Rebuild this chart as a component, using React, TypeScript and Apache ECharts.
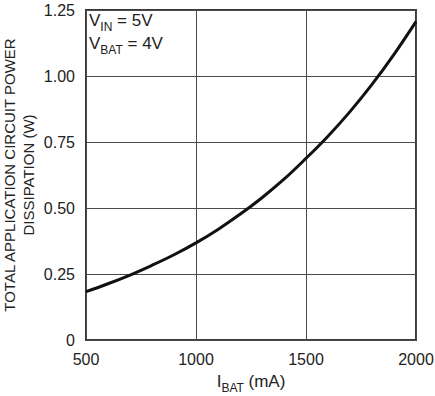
import React, { useEffect, useRef } from "react";
import * as echarts from "echarts";

const currentMA = [500, 600, 700, 800, 900, 1000, 1100, 1200, 1300, 1400, 1500, 1600, 1700, 1800, 1900, 2000];
const powerW = [0.183, 0.213, 0.246, 0.283, 0.323, 0.368, 0.419, 0.476, 0.539, 0.609, 0.688, 0.772, 0.865, 0.968, 1.082, 1.206];
const xTicks = { min: 500, max: 2000, interval: 500 };
const yTicks = { min: 0, max: 1.25, interval: 0.25 };

const FONT = "'Liberation Sans', Arial, sans-serif";

export default function App() {
  const ref = useRef<HTMLDivElement>(null);
  useEffect(() => {
    if (!ref.current) return;
    const chart = echarts.init(ref.current, null, { renderer: "svg" });
    const data = currentMA.map((x, i) => [x, powerW[i]]);
    chart.setOption({
      animation: false,
      backgroundColor: "#ffffff",
      grid: {
        left: 86,
        right: 19,
        top: 10,
        bottom: 56,
        show: true,
        borderColor: "#3a3a3a",
        borderWidth: 2,
        outerBoundsMode: "none",
        containLabel: false,
      },
      xAxis: {
        type: "value",
        min: xTicks.min,
        max: xTicks.max,
        interval: xTicks.interval,
        axisLine: { show: false },
        axisTick: { show: false },
        splitLine: { show: true, lineStyle: { color: "#4a4a4a", width: 1 } },
        axisLabel: {
          color: "#222",
          fontFamily: FONT,
          fontSize: 16,
          margin: 11,
          formatter: (v: number) => String(v),
        },
        name: "{m|I}{s|BAT}{m| (mA)}",
        nameLocation: "middle",
        nameGap: 33,
        nameTextStyle: {
          rich: {
            m: { fontFamily: FONT, fontSize: 17, color: "#222", lineHeight: 20, verticalAlign: "top" },
            s: { fontFamily: FONT, fontSize: 12, color: "#222", lineHeight: 12, padding: [9, 0, 0, 0], verticalAlign: "top" },
          },
        },
      },
      yAxis: {
        type: "value",
        min: yTicks.min,
        max: yTicks.max,
        interval: yTicks.interval,
        axisLine: { show: false },
        axisTick: { show: false },
        splitLine: { show: true, lineStyle: { color: "#4a4a4a", width: 1 } },
        axisLabel: {
          color: "#222",
          fontFamily: FONT,
          fontSize: 16,
          margin: 11,
          formatter: (v: number) => (v === 0 ? "0" : v.toFixed(2)),
        },
      },
      graphic: [
        {
          type: "text",
          x: 19,
          y: 175,
          rotation: Math.PI / 2,
          style: {
            text: "TOTAL APPLICATION CIRCUIT POWER\nDISSIPATION (W)",
            fontFamily: FONT,
            fontSize: 15,
            lineHeight: 18.5,
            fill: "#222",
            align: "center",
            verticalAlign: "middle",
          },
        },
        {
          type: "text",
          x: 89,
          y: 12,
          style: {
            text: "{m|V}{s|IN}{m| = 5V}\n{m|V}{s|BAT}{m| = 4V}",
            fill: "#222",
            rich: {
              m: { fontFamily: FONT, fontSize: 17, fill: "#222", lineHeight: 23, verticalAlign: "top" },
              s: { fontFamily: FONT, fontSize: 12, fill: "#222", lineHeight: 12, padding: [9, 0, 0, 0], verticalAlign: "top" },
            },
          },
        },
      ],
      series: [
        {
          type: "line",
          data,
          smooth: 0.4,
          showSymbol: false,
          lineStyle: { color: "#111", width: 3 },
          z: 5,
        },
      ],
    });
    return () => chart.dispose();
  }, []);
  return <div ref={ref} style={{ width: 435, height: 396, position: "absolute", left: 0, top: 0 }} />;
}
